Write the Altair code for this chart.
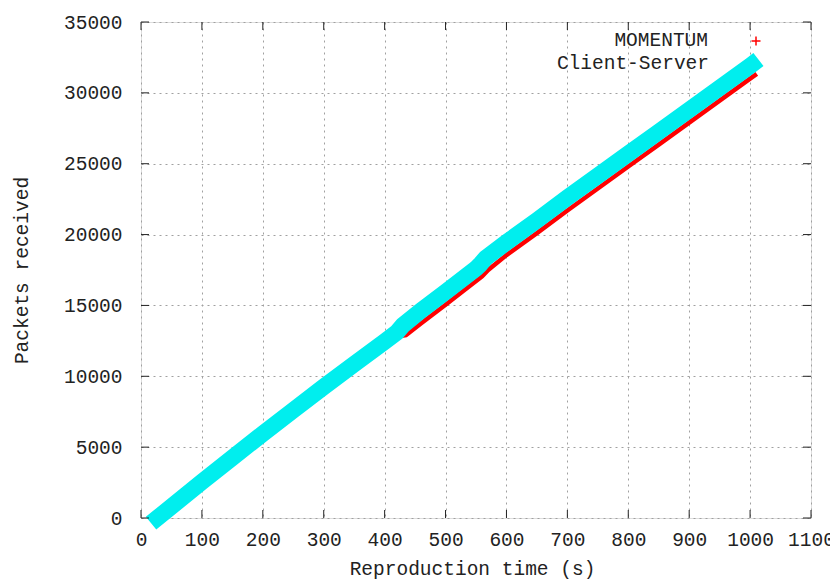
import altair as alt
import pandas as pd

# ---- data ----
series_names = ["MOMENTUM", "Client-Server"]

cs_time = [27, 100, 150, 200, 250, 300, 350, 400, 420, 430, 460, 500, 550, 556, 566,
           600, 650, 700, 750, 800, 850, 900, 950, 1000, 1003]
cs_packets = [0, 2550, 4250, 5950, 7600, 9250, 10850, 12450, 13100, 13600, 14650, 15950,
              17600, 17850, 18350, 19450, 21000, 22600, 24150, 25700, 27250, 28800, 30350, 31900, 32000]

mo_time = [27, 100, 150, 200, 250, 300, 350, 400, 420, 435, 460, 500, 530, 560, 570,
           600, 650, 700, 750, 800, 850, 900, 950, 1000, 1008]
mo_packets = [0, 2450, 4150, 5850, 7500, 9150, 10750, 12300, 12800, 12900, 13750, 15050, 16050, 17050, 17500,
              18550, 20100, 21700, 23250, 24800, 26350, 27900, 29450, 31000, 31250]

x_ticks = [0, 100, 200, 300, 400, 500, 600, 700, 800, 900, 1000, 1100]
y_ticks = [0, 5000, 10000, 15000, 20000, 25000, 30000, 35000]

W, H = 670, 496
FONT = "Liberation Mono"
FS = 19.5
TXT = "#222"
RED = "#ff0000"
CYAN = "#00eeee"

cs_df = pd.DataFrame({"t": cs_time, "p": cs_packets})
mo_df = pd.DataFrame({"t": mo_time, "p": mo_packets})
xt_df = pd.DataFrame({"v": x_ticks})
yt_df = pd.DataFrame({"v": y_ticks})

xscale = alt.Scale(domain=[0, 1100], nice=False, zero=False)
yscale = alt.Scale(domain=[0, 35000], nice=False, zero=False)

xaxis = alt.Axis(values=x_ticks, grid=True, gridDash=[2, 4], gridColor="#a0a0a0", gridWidth=1,
                 tickSize=0, domain=False, labelPadding=12, labelFont=FONT, labelFontSize=FS,
                 labelColor=TXT, labelFlush=False, format="d",
                 title="Reproduction time (s)", titleFont=FONT, titleFontSize=FS,
                 titleFontWeight="normal", titleColor=TXT, titleX=331, titleY=56,
                 titleBaseline="alphabetic", titleAlign="center", titleAnchor="start")
yaxis = alt.Axis(values=y_ticks, grid=True, gridDash=[2, 4], gridColor="#a0a0a0", gridWidth=1,
                 tickSize=0, domain=False, labelPadding=19, labelFont=FONT, labelFontSize=FS,
                 labelColor=TXT, labelFlush=False, format="d",
                 title="Packets received", titleFont=FONT, titleFontSize=FS,
                 titleFontWeight="normal", titleColor=TXT, titleX=-120, titleY=248,
                 titleAngle=-90, titleBaseline="middle", titleAlign="center", titleAnchor="start")

red_line = alt.Chart(mo_df).mark_line(color=RED, strokeWidth=4.5, strokeCap="square").encode(
    x=alt.X("t:Q", scale=xscale, axis=xaxis),
    y=alt.Y("p:Q", scale=yscale, axis=yaxis),
)
cyan_line = alt.Chart(cs_df).mark_line(color=CYAN, strokeWidth=16.5, strokeCap="square").encode(
    x=alt.X("t:Q", scale=xscale),
    y=alt.Y("p:Q", scale=yscale),
)

# inward ticks on all four sides (gnuplot style)
tk = 8
xt_bottom = alt.Chart(xt_df).mark_rule(color="#222", strokeWidth=1).encode(
    x=alt.X("v:Q", scale=xscale), y=alt.value(H), y2=alt.value(H - tk))
xt_top = alt.Chart(xt_df).mark_rule(color="#222", strokeWidth=1).encode(
    x=alt.X("v:Q", scale=xscale), y=alt.value(0), y2=alt.value(tk))
yt_left = alt.Chart(yt_df).mark_rule(color="#222", strokeWidth=1).encode(
    y=alt.Y("v:Q", scale=yscale), x=alt.value(0), x2=alt.value(tk))
yt_right = alt.Chart(yt_df).mark_rule(color="#222", strokeWidth=1).encode(
    y=alt.Y("v:Q", scale=yscale), x=alt.value(W), x2=alt.value(W - tk))

# gnuplot-style key (labels right-aligned, sample to the right)
leg_df = pd.DataFrame({"name": series_names})
leg1 = alt.Chart(leg_df.iloc[[0]]).mark_text(
    font=FONT, fontSize=FS, align="right", baseline="middle", color=TXT).encode(
    text="name:N", x=alt.value(567), y=alt.value(18))
leg2 = alt.Chart(leg_df.iloc[[1]]).mark_text(
    font=FONT, fontSize=FS, align="right", baseline="middle", color=TXT).encode(
    text="name:N", x=alt.value(568), y=alt.value(41))
plus = "M-1,0L1,0M0,-1L0,1"
leg1_sym = alt.Chart(leg_df.iloc[[0]]).mark_point(
    shape=plus, filled=False, color=RED, strokeWidth=1.5, size=81, opacity=1).encode(
    x=alt.value(615), y=alt.value(19))

chart = alt.layer(
    red_line, cyan_line, xt_bottom, xt_top, yt_left, yt_right, leg1, leg2, leg1_sym
).properties(
    width=W, height=H,
    padding={"left": 133, "top": 14, "right": 19, "bottom": 61},
    autosize=alt.AutoSizeParams(type="none"),
).configure_view(
    stroke="#222", strokeWidth=1.5
).configure(background="white")

chart.save("out.html", embed_options={"renderer": "svg", "actions": False})
